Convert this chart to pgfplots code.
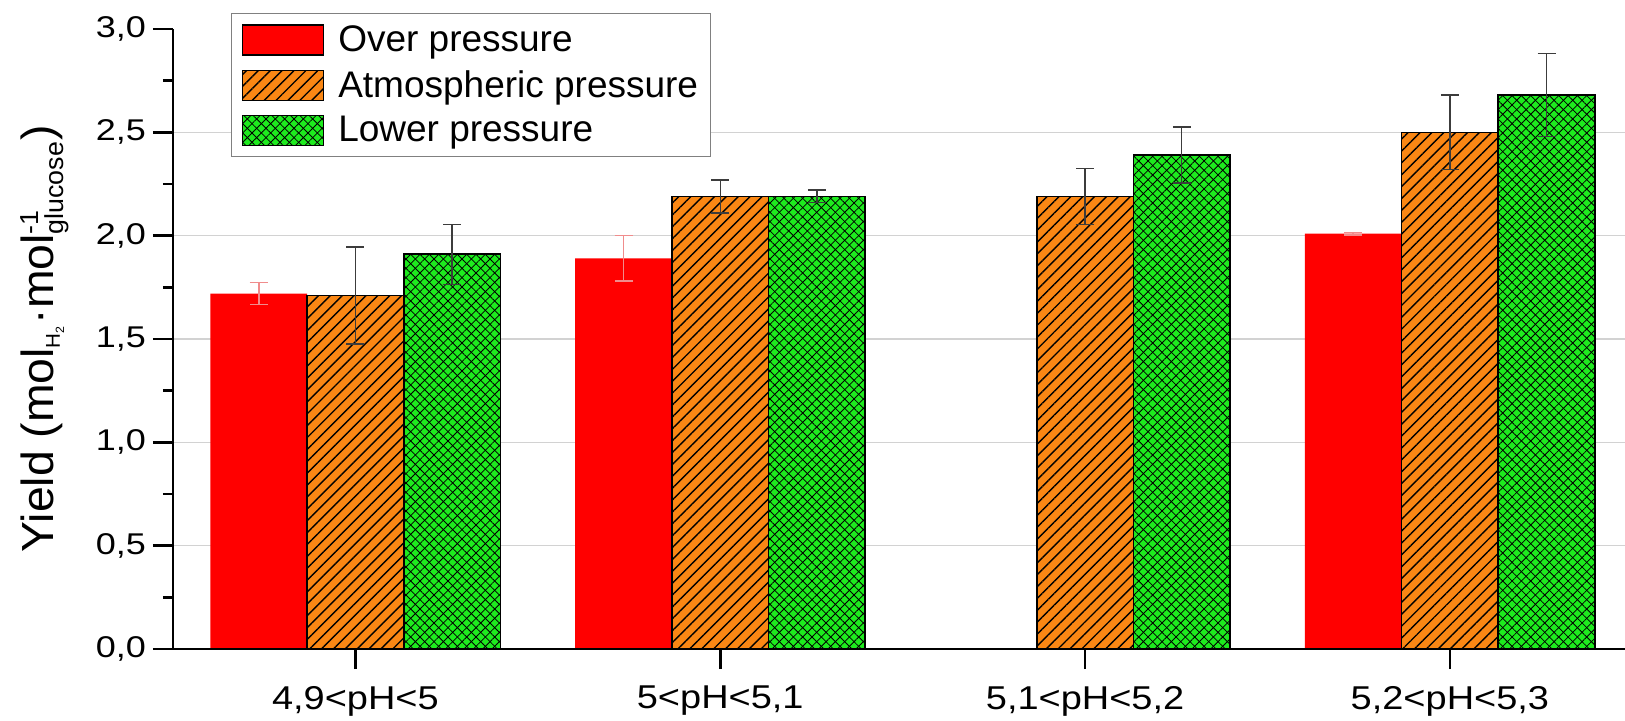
\documentclass[border=0pt]{standalone}
\usepackage{fontspec}
\setmainfont{Liberation Sans}
\newfontfamily\tickfont[FakeStretch=1.2]{Liberation Sans}
\newfontfamily\xfont[FakeStretch=1.15]{Liberation Sans}
\newfontfamily\labfont[FakeStretch=1.03]{Liberation Sans}
\usepackage{pgfplots}
\pgfplotsset{compat=1.18}
\usetikzlibrary{patterns.meta}

\definecolor{cRed}{RGB}{255,0,0}
\definecolor{cOrange}{RGB}{250,135,20}
\definecolor{cGreen}{RGB}{30,235,30}
\definecolor{cErrRed}{RGB}{240,140,140}
\definecolor{cErr}{RGB}{60,60,60}
\definecolor{cGrid}{RGB}{210,210,210}

\pgfplotsset{
  layers/mylayers/.define layer set={axis background,axis grid,main,axis ticks,axis lines,axis tick labels,axis descriptions,axis foreground}{
    grid style={/pgfplots/on layer=axis grid},
    tick style={/pgfplots/on layer=axis ticks},
    axis line style={/pgfplots/on layer=axis lines},
    label style={/pgfplots/on layer=axis descriptions},
    legend style={/pgfplots/on layer=axis descriptions},
    ticklabel style={/pgfplots/on layer=axis tick labels},
  },
  legimg/.style={legend image code/.code={\draw[##1] (0pt,-7.5pt) rectangle (40.5pt,7.5pt);}},
}

\begin{document}
\begin{tikzpicture}
\begin{axis}[
  set layers=mylayers,
  at={(0,0)}, anchor=south west,
  scale only axis, width=726pt, height=310pt,
  xmin=-0.5, xmax=3.48, ymin=0, ymax=3,
  ybar=0pt, bar width=0.265,
  axis x line*=bottom, axis y line*=left,
  axis line style={line width=1.3pt, black},
  tick align=outside, major tick length=10pt, minor tick length=5pt,
  tick style={line width=1.4pt, black},
  xtick={0,1,2,3},
  xticklabels={{4,9<pH<5},{5<pH<5,1},{5,1<pH<5,2},{5,2<pH<5,3}},
  xticklabel style={font=\xfont\fontsize{16.5}{19}\selectfont, yshift=-5pt},
  ytick={0,0.5,...,3.01}, minor y tick num=1,
  yticklabel style={font=\tickfont\fontsize{15}{18}\selectfont},
  /pgf/number format/.cd, assume math mode=true, use comma, fixed, fixed zerofill, precision=1, /pgfplots/.cd,
  extra y ticks={0.5,1,1.5,2,2.5},
  extra y tick labels={},
  extra y tick style={grid=major, major tick length=0pt},
  grid style={cGrid, line width=0.6pt},
  ylabel={Yield (mol$_{\mbox{\fontsize{10}{10}\selectfont H}_{\mbox{\fontsize{6}{6}\selectfont 2}}}$·mol$^{\mbox{\fontsize{13}{13}\selectfont -1}}_{\mbox{\fontsize{13}{13}\selectfont glucose}}$)},
  ylabel style={font=\labfont\fontsize{22.5}{26}\selectfont, at={(axis description cs:-0.0882,0.5)}, anchor=center},
  legend cell align=left,
  legend style={at={(axis description cs:0.040,1.0258)}, anchor=north west, draw=gray, line width=0.6pt,
    font=\fontsize{18.5}{21}\selectfont, inner xsep=5pt, inner ysep=5pt, row sep=6pt,
    nodes={inner sep=1pt},
    /tikz/every odd column/.append style={column sep=6pt}},
]
\addplot[legimg, fill=cRed, draw=none,
  error bars/.cd, y dir=both, y explicit,
  error bar style={cErrRed, line width=0.8pt},
  error mark options={rotate=90, cErrRed, mark size=4.5pt, line width=0.8pt}]
  coordinates {(0,1.72) +- (0,0.053) (1,1.89) +- (0,0.11) (3,2.01) +- (0,0.006)};
\addlegendentry{Over pressure}
\addplot[legimg, fill=cOrange, draw=black, line width=0.8pt,
  postaction={pattern={Lines[angle=45,distance=4.2pt,line width=0.7pt]}, pattern color=black},
  error bars/.cd, y dir=both, y explicit,
  error bar style={cErr, line width=0.7pt},
  error mark options={rotate=90, cErr, mark size=4.5pt, line width=0.7pt}]
  coordinates {(0,1.71) +- (0,0.235) (1,2.19) +- (0,0.08) (2,2.19) +- (0,0.135) (3,2.50) +- (0,0.18)};
\addlegendentry{Atmospheric pressure}
\addplot[legimg, fill=cGreen, draw=black, line width=0.8pt,
  postaction={pattern={Lines[angle=45,distance=3.3pt,line width=0.4pt]}, pattern color=black},
  postaction={pattern={Lines[angle=-45,distance=3.3pt,line width=0.4pt]}, pattern color=black},
  error bars/.cd, y dir=both, y explicit,
  error bar style={cErr, line width=0.7pt},
  error mark options={rotate=90, cErr, mark size=4.5pt, line width=0.7pt}]
  coordinates {(0,1.91) +- (0,0.145) (1,2.19) +- (0,0.03) (2,2.39) +- (0,0.135) (3,2.68) +- (0,0.20)};
\addlegendentry{Lower pressure}
\end{axis}
\pgfresetboundingbox
\path[use as bounding box] (-86.5pt,-36pt) rectangle (726pt,324.5pt);
\end{tikzpicture}
\end{document}
